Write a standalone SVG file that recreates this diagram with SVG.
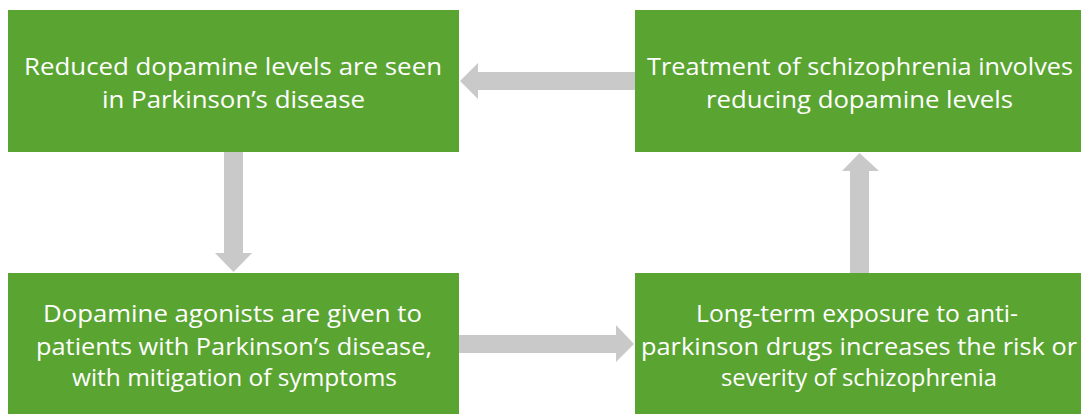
<svg xmlns="http://www.w3.org/2000/svg" width="1081" height="414" viewBox="0 0 1081 414">
<style>
.box{fill:#5aa532}
.arr{fill:#c9c9c9}
text{font-family:"Open Sans","Liberation Sans",sans-serif;font-size:24px;fill:#ffffff;text-anchor:middle}
</style>
<rect width="1081" height="414" fill="#ffffff"/>
<g id="connectors">
<polygon class="arr" points="635,72 478,72 478,63 460,81 478,99 478,90 635,90"/>
<polygon class="arr" points="224,152 243,152 243,253 252,253 233.5,272 215,253 224,253"/>
<polygon class="arr" points="850,273 869,273 869,171 879,171 859.5,153 842,171 850,171"/>
<polygon class="arr" points="459,335 616,335 616,325 634,344 616,362 616,353 459,353"/>
</g>
<g id="node1">
<rect class="box" x="8" y="10" width="451" height="142"/>
<text x="233" y="75" textLength="418" lengthAdjust="spacingAndGlyphs">Reduced dopamine levels are seen</text>
<text x="233.5" y="108" textLength="263" lengthAdjust="spacingAndGlyphs">in Parkinson’s disease</text>
</g>
<g id="node2">
<rect class="box" x="635" y="10" width="446" height="142"/>
<text x="860" y="75" textLength="426" lengthAdjust="spacingAndGlyphs">Treatment of schizophrenia involves</text>
<text x="859.5" y="108" textLength="307" lengthAdjust="spacingAndGlyphs">reducing dopamine levels</text>
</g>
<g id="node3">
<rect class="box" x="8" y="273" width="451" height="141"/>
<text x="232.5" y="322" textLength="379" lengthAdjust="spacingAndGlyphs">Dopamine agonists are given to</text>
<text x="234" y="355" textLength="396" lengthAdjust="spacingAndGlyphs">patients with Parkinson’s disease,</text>
<text x="234.5" y="386" textLength="325" lengthAdjust="spacingAndGlyphs">with mitigation of symptoms</text>
</g>
<g id="node4">
<rect class="box" x="635" y="273" width="446" height="141"/>
<text x="857" y="322" textLength="322" lengthAdjust="spacingAndGlyphs">Long-term exposure to anti-</text>
<text x="859" y="355" textLength="436" lengthAdjust="spacingAndGlyphs">parkinson drugs increases the risk or</text>
<text x="859" y="386" textLength="276" lengthAdjust="spacingAndGlyphs">severity of schizophrenia</text>
</g>
</svg>
